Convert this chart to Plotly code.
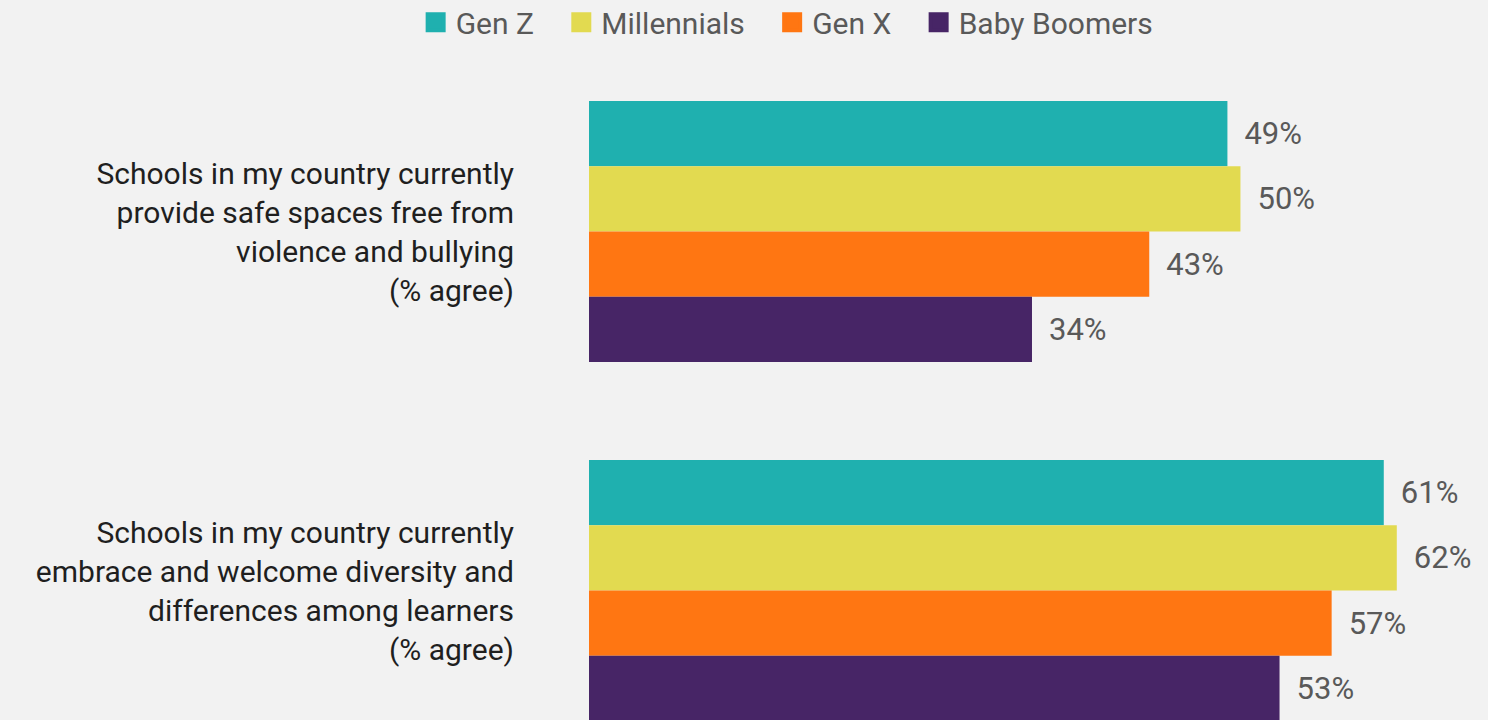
import plotly.graph_objects as go

# Survey statements (y categories) and share agreeing by generation
statements = [
    "Schools in my country currently<br>provide safe spaces free from<br>violence and bullying<br>(% agree)",
    "Schools in my country currently<br>embrace and welcome diversity and<br>differences among learners<br>(% agree)",
]
generations = ["Gen Z", "Millennials", "Gen X", "Baby Boomers"]
gen_z = [49, 61]
millennials = [50, 62]
gen_x = [43, 57]
baby_boomers = [34, 53]

series = [gen_z, millennials, gen_x, baby_boomers]
colors = ["#1FB0AF", "#E2DA50", "#FF7612", "#472566"]

FONT = "Roboto"
LABEL_GREY = "#595959"
NBSP = "\u00a0"
THIN = "\u2009"

fig = go.Figure()

for i, (name, values, color) in enumerate(zip(generations, series, colors)):
    fig.add_trace(
        go.Bar(
            name=name,
            x=values,
            y=statements,
            orientation="h",
            marker=dict(color=color, line=dict(width=0)),
            text=[f"{NBSP}{THIN}{v}%" for v in values],
            textposition="outside",
            textfont=dict(family=FONT, size=31, color=LABEL_GREY),
            cliponaxis=False,
            showlegend=False,
            hoverinfo="skip",
        )
    )
    # legend swatch: square marker, enlarged with a same-colour outline;
    # trailing spaces widen the gap between legend entries
    pad = NBSP * 3 if i < len(generations) - 1 else ""
    fig.add_trace(
        go.Scatter(
            name=name + pad,
            x=[None],
            y=[None],
            mode="markers",
            marker=dict(symbol="square", size=16, color=color,
                        line=dict(color=color, width=4)),
            showlegend=True,
        )
    )

fig.update_layout(
    width=1488,
    height=720,
    paper_bgcolor="#F2F2F2",
    plot_bgcolor="#F2F2F2",
    margin=dict(l=589, r=0, t=50, b=0, autoexpand=False),
    barmode="group",
    bargap=0.273,
    bargroupgap=0,
    showlegend=True,
    legend=dict(
        orientation="h",
        xref="container",
        yref="container",
        x=0.529,
        xanchor="center",
        y=0.969,
        yanchor="middle",
        font=dict(family=FONT, size=30, color=LABEL_GREY),
        itemsizing="trace",
        bgcolor="rgba(0,0,0,0)",
    ),
    xaxis=dict(
        range=[0, 69],
        visible=False,
        showgrid=False,
        zeroline=False,
    ),
    yaxis=dict(
        range=[1.3607, -0.5056],
        showgrid=False,
        zeroline=False,
        showline=False,
        ticks="",
        ticklabelstandoff=74,
        tickfont=dict(family=FONT, size=30, color="#1F1F1F"),
        categoryorder="array",
        categoryarray=statements,
    ),
)

fig.write_html("out.html")
